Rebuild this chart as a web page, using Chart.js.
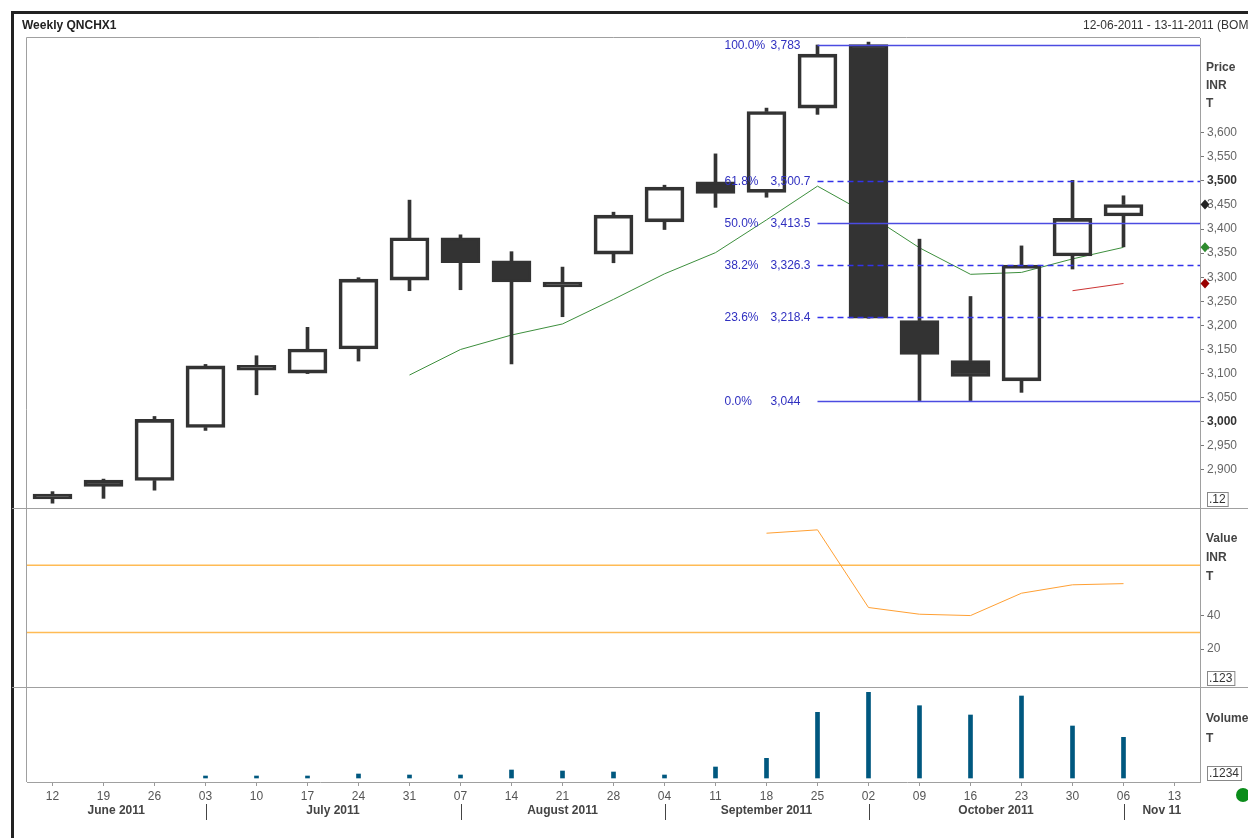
<!DOCTYPE html>
<html>
<head>
<meta charset="utf-8">
<title>Weekly QNCHX1</title>
<script src="https://cdn.jsdelivr.net/npm/chart.js@4.4.0/dist/chart.umd.min.js"></script>
<style>
  html, body { margin: 0; padding: 0; background: #fff; }
  canvas { display: block; }
</style>
</head>
<body>
<canvas id="chart" width="1248" height="838"></canvas>
<script>
// week labels (day of month) and month bands
const weeks = ['12','19','26','03','10','17','24','31','07','14','21','28','04','11','18','25','02','09','16','23','30','06','13'];
const months = ['June 2011', 'July 2011', 'August 2011', 'September 2011', 'October 2011', 'Nov 11'];
const monthStart = [0, 3, 8, 12, 16, 21];

// weekly OHLC
const opens  = [2850, 2879, 2878, 2988, 3117, 3101, 3151, 3294, 3382, 3334, 3290, 3348, 3415, 3498, 3476, 3651, 3783, 3210, 3127, 3085, 3344, 3427, null];
const highs  = [2855, 2881, 3011, 3119, 3137, 3196, 3299, 3460, 3388, 3353, 3321, 3435, 3491, 3556, 3651, 3782, 3788, 3379, 3260, 3365, 3501, 3469, null];
const lows   = [2831, 2841, 2858, 2982, 3056, 3100, 3126, 3272, 3274, 3120, 3218, 3330, 3399, 3445, 3466, 3638, 3215, 3044, 3044, 3061, 3317, 3363, null];
const closes = [2840, 2866, 3005, 3116, 3107, 3151, 3296, 3382, 3330, 3290, 3280, 3429, 3487, 3474, 3644, 3763, 3215, 3140, 3094, 3325, 3422, 3451, null];

// moving average (green) and the short red line
const movAvg  = [null, null, null, null, null, null, null, 3097, 3150, 3180, 3203, 3254, 3307, 3351, 3419, 3489, 3430, 3361, 3306, 3310, 3338, 3362, null];
const redLine = [null, null, null, null, null, null, null, null, null, null, null, null, null, null, null, null, null, null, null, null, 3272, 3287, null];

// lower panes
const rsi    = [null, null, null, null, null, null, null, null, null, null, null, null, null, null, 89, 91, 44.8, 40.8, 40, 53.3, 58.3, 59, null];
const volume = [null, null, null, 20, 20, 20, 40, 30, 30, 80, 70, 60, 30, 110, 197, 657, 857, 723, 630, 820, 520, 407, null];

// fibonacci retracement
const fibPct = ['100.0%', '61.8%', '50.0%', '38.2%', '23.6%', '0.0%'];
const fibVal = [3783, 3500.7, 3413.5, 3326.3, 3218.4, 3044];
const fibFromIndex = 15;

const priceTicks = [2900, 2950, 3000, 3050, 3100, 3150, 3200, 3250, 3300, 3350, 3400, 3450, 3500, 3550, 3600];
const rsiTicks = [20, 40];
const rsiBands = [70, 30];

const fmt = v => String(v).replace(/\B(?=(\d{3})+(?!\d))/g, ',');
const lastOf = arr => arr.filter(v => v != null).slice(-1)[0];
const isMajor = ctx => !!(ctx && ctx.tick && ctx.tick.value % 500 === 0);

Chart.defaults.font.family = '"Liberation Sans", Arial, sans-serif';
Chart.defaults.font.size = 12;

const DARK = '#333333';
const GRAY = '#a0a0a0';

const decor = {
  id: 'decor',
  beforeDraw(chart) {
    const {ctx, chartArea: a, scales} = chart;
    const W = chart.width, H = chart.height;
    ctx.save();
    ctx.fillStyle = '#fff';
    ctx.fillRect(0, 0, W, H);

    // outer frame
    ctx.strokeStyle = '#222';
    ctx.lineWidth = 3;
    ctx.beginPath();
    ctx.moveTo(12.5, H);
    ctx.lineTo(12.5, 12.5);
    ctx.lineTo(W, 12.5);
    ctx.stroke();

    // title and date range
    ctx.fillStyle = '#222';
    ctx.textBaseline = 'middle';
    ctx.font = 'bold 12px "Liberation Sans", Arial, sans-serif';
    ctx.fillText('Weekly QNCHX1', 22, 26);
    ctx.font = '12px "Liberation Sans", Arial, sans-serif';
    ctx.fillStyle = '#333';
    ctx.fillText('12-06-2011 - 13-11-2011 (BOM)', 1083, 26);

    // plot frame and pane dividers
    ctx.strokeStyle = GRAY;
    ctx.lineWidth = 1;
    ctx.beginPath();
    ctx.moveTo(a.left - 0.5, a.bottom);
    ctx.lineTo(a.left - 0.5, a.top - 0.5);
    ctx.lineTo(a.right, a.top - 0.5);
    for (const id of ['rsi', 'vol']) {
      const y = Math.round(scales[id].top) + 0.5;
      ctx.moveTo(12, y);
      ctx.lineTo(W, y);
    }
    ctx.stroke();

    // RSI 70 / 30 bands
    ctx.strokeStyle = '#ffbb55';
    ctx.lineWidth = 1.5;
    for (const v of rsiBands) {
      const y = scales.rsi.getPixelForValue(v);
      ctx.beginPath();
      ctx.moveTo(a.left, y);
      ctx.lineTo(a.right, y);
      ctx.stroke();
    }
    ctx.restore();
  },
  afterDatasetsDraw(chart) {
    const {ctx, chartArea: a, scales: {x, price}} = chart;
    const x0 = x.getPixelForValue(fibFromIndex);
    const dashed = [false, true, false, true, true, false];
    ctx.save();
    fibVal.forEach((v, i) => {
      const y = Math.round(price.getPixelForValue(v)) + 0.5;
      ctx.strokeStyle = dashed[i] ? 'rgb(50,50,235)' : 'rgb(75,75,225)';
      ctx.setLineDash(dashed[i] ? [6, 4] : []);
      ctx.lineWidth = 1.5;
      ctx.beginPath();
      ctx.moveTo(x0, y);
      ctx.lineTo(a.right, y);
      ctx.stroke();
      ctx.setLineDash([]);
      ctx.fillStyle = '#3030c0';
      ctx.font = '12px "Liberation Sans", Arial, sans-serif';
      ctx.textBaseline = 'middle';
      ctx.fillText(fibPct[i], x0 - 93, y);
      ctx.fillText(fmt(v), x0 - 47, y);
    });
    ctx.restore();
  },
  afterDraw(chart) {
    const {ctx, chartArea: a, scales: {x, price, rsi, vol}} = chart;
    ctx.save();
    const bold = 'bold 12px "Liberation Sans", Arial, sans-serif';
    const norm = '12px "Liberation Sans", Arial, sans-serif';
    ctx.textBaseline = 'middle';

    // pane captions on the right axis
    ctx.fillStyle = '#444';
    ctx.font = bold;
    [['Price', 68], ['INR', 86], ['T', 104]].forEach(([t, y]) => ctx.fillText(t, a.right + 6, y));
    [['Value', 539], ['INR', 558], ['T', 577]].forEach(([t, y]) => ctx.fillText(t, a.right + 6, y));
    [['Volume', 719], ['T', 739]].forEach(([t, y]) => ctx.fillText(t, a.right + 6, y));

    // small value boxes at the foot of each pane
    ctx.font = norm;
    [['.12', price.bottom - 8], ['.123', rsi.bottom - 8], ['.1234', vol.bottom - 8]].forEach(([t, y]) => {
      const w = ctx.measureText(t).width + 4;
      ctx.strokeStyle = '#888';
      ctx.lineWidth = 1;
      ctx.strokeRect(a.right + 7.5, y - 7.5, w, 14);
      ctx.fillStyle = '#333';
      ctx.fillText(t, a.right + 9, y);
    });

    // last-value markers
    const diamond = (v, color) => {
      const y = price.getPixelForValue(v), cx = a.right + 5;
      ctx.fillStyle = color;
      ctx.beginPath();
      ctx.moveTo(cx, y - 5); ctx.lineTo(cx + 4.5, y); ctx.lineTo(cx, y + 5); ctx.lineTo(cx - 4.5, y);
      ctx.closePath();
      ctx.fill();
    };
    diamond(lastOf(closes), '#222');
    diamond(lastOf(movAvg), '#2e8b2e');
    diamond(lastOf(redLine), '#990000');

    // month bands under the week labels
    const bounds = monthStart.map(i => x.getPixelForValue(i));
    ctx.strokeStyle = '#444';
    ctx.lineWidth = 1;
    bounds.forEach((bx, i) => {
      if (i === 0) return;
      ctx.beginPath();
      ctx.moveTo(Math.round(bx) + 0.5, 804);
      ctx.lineTo(Math.round(bx) + 0.5, 820);
      ctx.stroke();
    });
    ctx.font = bold;
    ctx.fillStyle = '#444';
    ctx.textAlign = 'center';
    months.forEach((m, i) => {
      const l = i === 0 ? a.left : bounds[i];
      const r = i + 1 < bounds.length ? bounds[i + 1] : a.right;
      ctx.fillText(m, (l + r) / 2, 811);
    });

    // status dot
    ctx.fillStyle = '#0a8c1a';
    ctx.beginPath();
    ctx.arc(1243, 795, 7, 0, Math.PI * 2);
    ctx.fill();
    ctx.restore();
  }
};

const candleBody = opens.map((o, i) => o == null ? null : [o, closes[i]]);
const upperWick = highs.map((h, i) => h == null ? null : [Math.max(opens[i], closes[i]), h]);
const lowerWick = lows.map((l, i) => l == null ? null : [l, Math.min(opens[i], closes[i])]);
const bodyFill = opens.map((o, i) => closes[i] >= o ? 'rgba(0,0,0,0)' : DARK);

new Chart(document.getElementById('chart'), {
  type: 'bar',
  data: {
    labels: weeks,
    datasets: [
      { type: 'line', yAxisID: 'price', data: movAvg, borderColor: '#3d8f3d', borderWidth: 1, pointRadius: 0, order: 5 },
      { type: 'line', yAxisID: 'price', data: redLine, borderColor: '#cc3333', borderWidth: 1, pointRadius: 0, order: 5 },
      { yAxisID: 'price', data: upperWick, backgroundColor: DARK, barThickness: 3, grouped: false, order: 2 },
      { yAxisID: 'price', data: lowerWick, backgroundColor: DARK, barThickness: 3, grouped: false, order: 2 },
      { yAxisID: 'price', data: candleBody, backgroundColor: bodyFill, borderColor: DARK, borderWidth: 3,
        borderSkipped: false, barThickness: 39, grouped: false, order: 1 },
      { type: 'line', yAxisID: 'rsi', data: rsi, borderColor: '#ffa033', borderWidth: 1, pointRadius: 0, order: 0 },
      { yAxisID: 'vol', data: volume, backgroundColor: '#00587f', barThickness: 4, grouped: false, order: 0 }
    ]
  },
  options: {
    responsive: false,
    animation: false,
    layout: { padding: { left: 27, top: 38, right: 0, bottom: 0 } },
    plugins: { legend: { display: false }, tooltip: { enabled: false } },
    scales: {
      x: {
        offset: true,
        grid: { offset: false, drawOnChartArea: false, drawTicks: true, tickLength: 4, color: '#999' },
        border: { display: true, color: GRAY },
        ticks: { autoSkip: false, maxRotation: 0, padding: 3, color: '#555' },
        afterFit: s => { s.height = 56; }
      },
      price: {
        position: 'right', stack: 'panes', stackWeight: 470,
        min: 2821, max: 3796.5,
        afterBuildTicks: s => { s.ticks = priceTicks.map(v => ({ value: v })); },
        ticks: {
          padding: 3,
          color: ctx => isMajor(ctx) ? '#333' : '#666',
          font: ctx => ({ weight: isMajor(ctx) ? 'bold' : 'normal' }),
          callback: v => fmt(v)
        },
        grid: { drawOnChartArea: false, tickLength: 4, color: '#777' },
        border: { color: GRAY },
        afterFit: s => { s.width = 48; }
      },
      rsi: {
        position: 'right', stack: 'panes', stackWeight: 179,
        min: -2.5, max: 104,
        afterBuildTicks: s => { s.ticks = rsiTicks.map(v => ({ value: v })); },
        ticks: { padding: 3, color: '#666' },
        grid: { drawOnChartArea: false, tickLength: 4, color: '#777' },
        border: { color: GRAY },
        afterFit: s => { s.width = 48; }
      },
      vol: {
        position: 'right', stack: 'panes', stackWeight: 95,
        min: -40, max: 910,
        ticks: { display: false },
        grid: { display: false },
        border: { display: true, color: GRAY },
        afterFit: s => { s.width = 48; }
      }
    }
  },
  plugins: [decor]
});
</script>
</body>
</html>
